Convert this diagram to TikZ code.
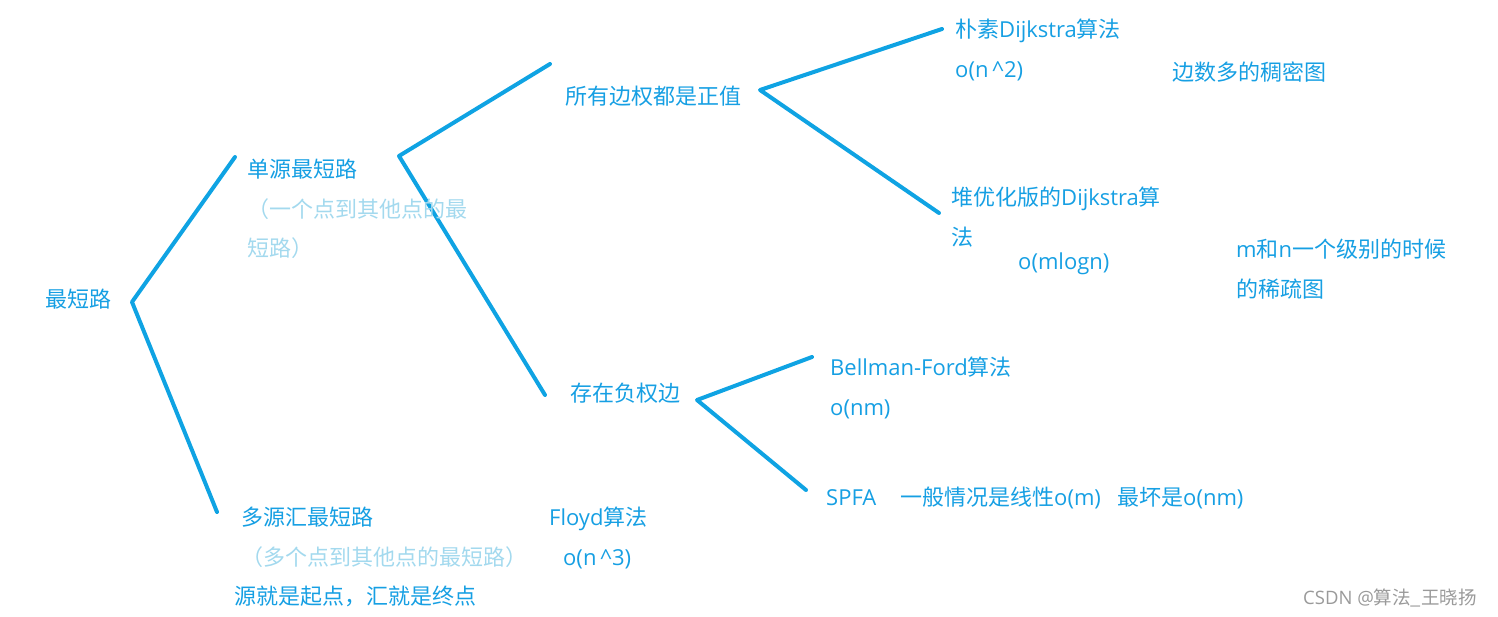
\documentclass[tikz,border=0pt]{standalone}
\usepackage{fontspec}
\setmainfont{Noto Sans CJK SC}
\newfontfamily\lat{Open Sans}
\definecolor{lineblue}{HTML}{0FA3E3}
\definecolor{textblue}{HTML}{169FE3}
\definecolor{paleblue}{HTML}{A3D9EE}
\definecolor{markgray}{HTML}{9A9A9A}
\tikzset{
  txt/.style={anchor=base west, inner sep=0pt, text=textblue, font=\fontsize{22}{26}\selectfont},
  pale/.style={txt, text=paleblue},
  branch/.style={draw=lineblue, line width=4pt, line cap=round, line join=round}
}
\begin{document}
\begin{tikzpicture}[x=1pt, y=-1pt]
            \useasboundingbox (0,0) rectangle (1498,617);
            \coordinate (rootv) at (132,302);
            \coordinate (singleend) at (235,157);
            \coordinate (multiend) at (217,512);
            \coordinate (singlev) at (399,156);
            \coordinate (posend) at (550,64);
            \coordinate (negend) at (545,395);
            \coordinate (posv) at (760,90);
            \coordinate (naiveend) at (942,29);
            \coordinate (heapend) at (939,213);
            \coordinate (negv) at (697,400);
            \coordinate (bellend) at (812,357);
            \coordinate (spfaend) at (806,490);
            \draw [branch] (singleend) -- (rootv) -- (multiend);
            \draw [branch] (posend) -- (singlev) -- (negend);
            \draw [branch] (naiveend) -- (posv) -- (heapend);
            \draw [branch] (bellend) -- (negv) -- (spfaend);
            \node [txt] (root) at (45,308) {最短路};
            \node [txt] (single) at (247,178) {单源最短路};
            \node [pale] (singlenote) at (247,218) {（一个点到其他点的最};
            \node [pale] (singlenotetwo) at (247,257) {短路）};
            \node [txt] (pos) at (565,105) {所有边权都是正值};
            \node [txt] (naive) at (955,38) {朴素{\lat Dijkstra}算法};
            \node [txt] (naivecost) at (955,78) {\lat o(n\,\char`\^2)};
            \node [txt] (dense) at (1172,81) {边数多的稠密图};
            \node [txt] (heap) at (951,206) {堆优化版的{\lat Dijkstra}算};
            \node [txt] (heaptwo) at (951,246) {法};
            \node [txt] (heapcost) at (1018,270) {\lat o(mlogn)};
            \node [txt] (sparse) at (1236,258) {{\lat m}和{\lat n}一个级别的时候};
            \node [txt] (sparsetwo) at (1236,298) {的稀疏图};
            \node [txt] (neg) at (570,401) {存在负权边};
            \node [txt] (bell) at (830,375) {\lat Bellman-Ford{\rmfamily 算法}};
            \node [txt] (bellcost) at (830,415) {\lat o(nm)};
            \node [txt] (spfa) at (826,505) {\lat SPFA};
            \node [txt] (spfacost) at (900,505) {一般情况是线性{\lat o(m)}};
            \node [txt] (spfaworst) at (1117,505) {最坏是{\lat o(nm)}};
            \node [txt] (multi) at (241,525) {多源汇最短路};
            \node [pale] (multinote) at (241,565) {（多个点到其他点的最短路）};
            \node [txt] (multidef) at (234,604) {源就是起点，汇就是终点};
            \node [txt] (floyd) at (549,525) {{\lat Floyd}算法};
            \node [txt] (floydcost) at (563,565) {\lat o(n\,\char`\^3)};
            \node [anchor=base west, inner sep=0pt, text=markgray, font=\fontsize{18.5}{22}\selectfont] (mark) at (1303,604) {{\lat CSDN @}算法\_王晓扬};
        \end{tikzpicture}
\end{document}
